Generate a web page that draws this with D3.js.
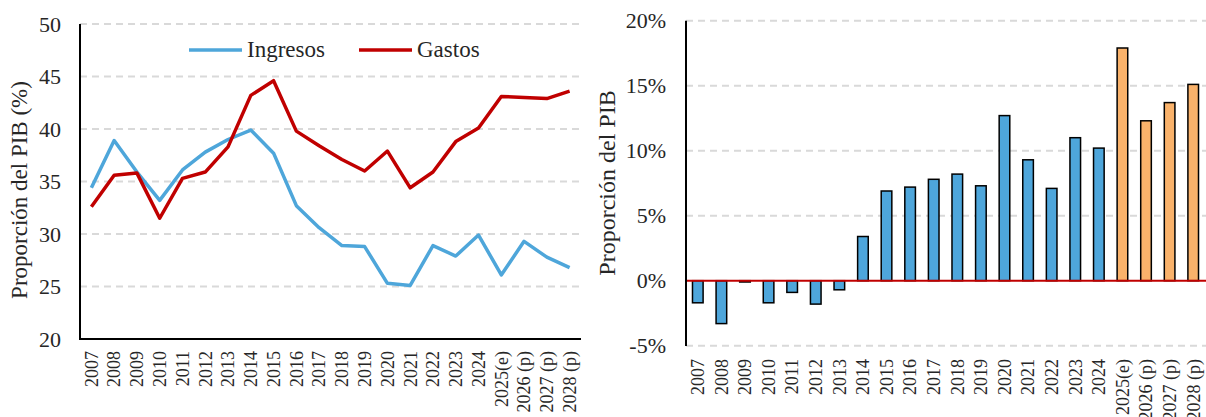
<!DOCTYPE html>
<html>
<head>
<meta charset="utf-8">
<script src="https://cdn.jsdelivr.net/npm/d3@7"></script>
<style>
  body { margin: 0; background: #fff; }
  svg text { font-family: 'Liberation Serif', 'DejaVu Serif', serif; fill: #262626; }
</style>
</head>
<body>
<script>
// small stand-in for d3-selection-multi
d3.selection.prototype.attrs = function (o) {
  Object.keys(o).forEach(k => this.attr(k, o[k]));
  return this;
};

let w = 1206;
let h = 417;

// data
let years = ["2007", "2008", "2009", "2010", "2011", "2012", "2013", "2014", "2015", "2016", "2017",
  "2018", "2019", "2020", "2021", "2022", "2023", "2024", "2025(e)", "2026 (p)", "2027 (p)", "2028 (p)"];
let ingresos = [34.4, 38.9, 35.9, 33.2, 36.1, 37.8, 39.0, 39.9, 37.7, 32.7, 30.6,
  28.9, 28.8, 25.3, 25.1, 28.9, 27.9, 29.9, 26.1, 29.3, 27.8, 26.8];
let gastos = [32.6, 35.6, 35.8, 31.5, 35.3, 35.9, 38.3, 43.2, 44.6, 39.8, 38.4,
  37.1, 36.0, 37.9, 34.4, 35.9, 38.8, 40.1, 43.1, 43.0, 42.9, 43.6];
let deficit = [-1.7, -3.3, -0.1, -1.7, -0.9, -1.8, -0.7, 3.4, 6.9, 7.2, 7.8,
  8.2, 7.3, 12.7, 9.3, 7.1, 11.0, 10.2, 17.9, 12.3, 13.7, 15.1];
let leftTicks = [20, 25, 30, 35, 40, 45, 50];
let rightTicks = [-5, 0, 5, 10, 15, 20];

let blueLine = "#4EA6DA";
let blueBar = "#4EA6DB";
let orange = "#F9B26B";
let red = "#C00000";
let grid = "#D9D9D9";
let font = "Liberation Serif";

let svg = d3.select("body").append("svg")
  .attr("width", w).attr("height", h)
  .attr("font-family", font);

// ---------- left chart ----------
let x1 = d3.scaleBand().domain(years).range([80, 581]);
let y1 = d3.scaleLinear().domain([20, 50]).range([339, 24]);

svg.append("g")
  .selectAll("line")
  .data(leftTicks.filter(d => d > 20))
  .enter()
  .append("line")
  .attrs({
    x1: 80, x2: 581,
    y1: d => y1(d), y2: d => y1(d),
    stroke: grid, "stroke-width": 2, "stroke-dasharray": "7,5",
  });

svg.append("g")
  .selectAll("text")
  .data(leftTicks)
  .enter()
  .append("text")
  .text(d => d)
  .attrs({
    x: 61, y: d => y1(d), dy: "0.35em",
    "text-anchor": "end", "font-size": 22,
  });

let line1 = d3.line()
  .x((d, i) => x1(years[i]) + x1.bandwidth() / 2)
  .y(d => y1(d));

svg.append("path").datum(ingresos)
  .attrs({ d: line1, fill: "none", stroke: blueLine, "stroke-width": 3.5, "stroke-linejoin": "round" });
svg.append("path").datum(gastos)
  .attrs({ d: line1, fill: "none", stroke: red, "stroke-width": 3.5, "stroke-linejoin": "round" });

svg.append("line").attrs({ x1: 80, x2: 80, y1: 24, y2: 340, stroke: "#000", "stroke-width": 2 });
svg.append("line").attrs({ x1: 79, x2: 581, y1: 339, y2: 339, stroke: "#000", "stroke-width": 2 });

svg.append("g")
  .selectAll("text")
  .data(years)
  .enter()
  .append("text")
  .text(d => d)
  .attrs({
    transform: d => `translate(${x1(d) + x1.bandwidth() / 2},351) rotate(-90)`,
    dy: "0.35em", "text-anchor": "end", "font-size": 18,
  });

svg.append("text")
  .text("Proporción del PIB (%)")
  .attrs({ transform: "translate(27,190) rotate(-90)", "text-anchor": "middle", "font-size": 23 });

// legend
let legend = [["Ingresos", blueLine, 189], ["Gastos", red, 359]];
legend.forEach(([name, col, lx]) => {
  svg.append("line").attrs({ x1: lx, x2: lx + 53, y1: 50, y2: 50, stroke: col, "stroke-width": 3.5 });
  svg.append("text").text(name).attrs({ x: lx + 58, y: 57, "font-size": 23 });
});

// ---------- right chart ----------
let x2 = d3.scaleBand().domain(years).range([686, 1205]).paddingInner(0.55).paddingOuter(0.275);
let y2 = d3.scaleLinear().domain([-5, 20]).range([345.7, 20.7]);

svg.append("g")
  .selectAll("line")
  .data(rightTicks.filter(d => d !== 0))
  .enter()
  .append("line")
  .attrs({
    x1: 686, x2: 1206,
    y1: d => y2(d), y2: d => y2(d),
    stroke: grid, "stroke-width": 2, "stroke-dasharray": "7,5",
  });

svg.append("g")
  .selectAll("text")
  .data(rightTicks)
  .enter()
  .append("text")
  .text(d => d + "%")
  .attrs({
    x: 666, y: d => y2(d), dy: "0.35em",
    "text-anchor": "end", "font-size": 22,
  });

svg.append("g")
  .selectAll("rect")
  .data(deficit)
  .enter()
  .append("rect")
  .attrs({
    x: (d, i) => x2(years[i]),
    y: d => y2(Math.max(0, d)),
    width: x2.bandwidth(),
    height: d => Math.abs(y2(d) - y2(0)),
    fill: (d, i) => i >= 18 ? orange : blueBar,
    stroke: "#000", "stroke-width": 1.5,
  });

svg.append("line").attrs({ x1: 686, x2: 1206, y1: y2(0), y2: y2(0), stroke: red, "stroke-width": 2 });
svg.append("line").attrs({ x1: 686, x2: 686, y1: 20.7, y2: 346, stroke: "#000", "stroke-width": 2 });

// the last labels run past the bottom edge, as in the original
svg.append("g")
  .selectAll("text")
  .data(years)
  .enter()
  .append("text")
  .text(d => d)
  .attrs({
    transform: d => `translate(${x2(d) + x2.bandwidth() / 2},359) rotate(-90)`,
    dy: "0.35em", "text-anchor": "end", "font-size": 18,
  });

svg.append("text")
  .text("Proporción del PIB")
  .attrs({ transform: "translate(615,183) rotate(-90)", "text-anchor": "middle", "font-size": 24 });
</script>
</body>
</html>
